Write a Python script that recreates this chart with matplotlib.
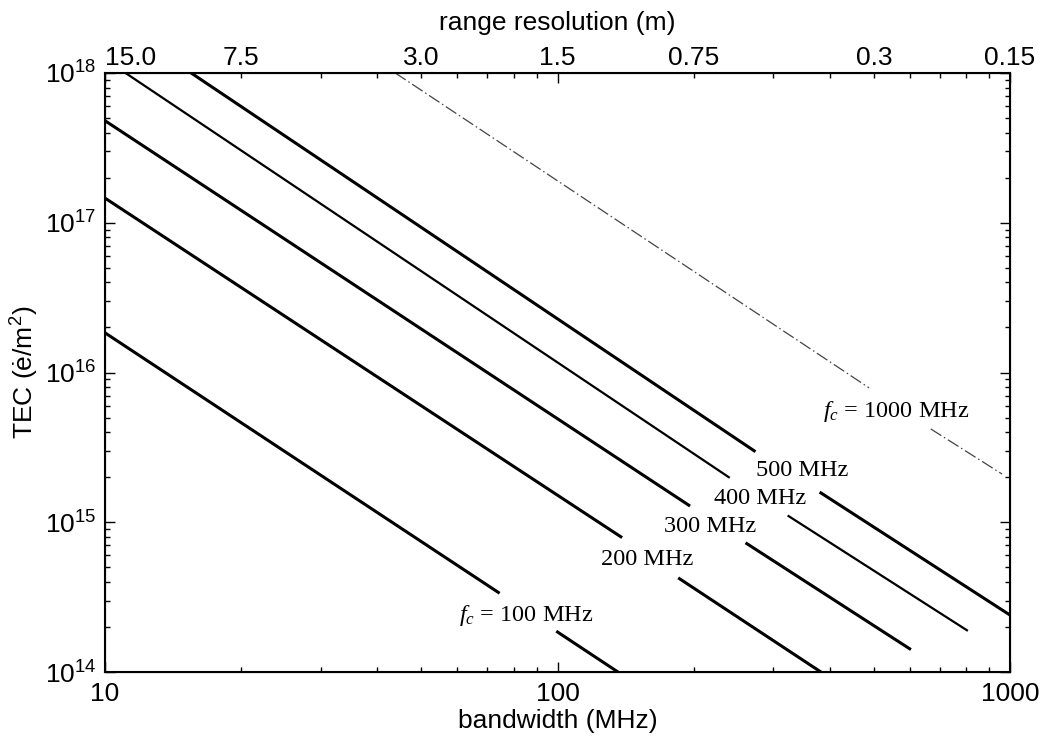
import numpy as np
import matplotlib.pyplot as plt
from matplotlib.ticker import FixedLocator, FuncFormatter, LogLocator, NullFormatter

plt.rcParams["font.family"] = ["Liberation Sans", "DejaVu Sans"]
plt.rcParams["mathtext.fontset"] = "custom"
plt.rcParams["mathtext.it"] = "Liberation Serif:italic"
plt.rcParams["mathtext.rm"] = "Liberation Serif"
plt.rcParams["mathtext.default"] = "regular"

nan = np.nan

# bandwidth (MHz) / TEC (e/m^2), NaN = gap for the label
bw_100 = [10, 74, nan, 100, 136]
tec_100 = [1.84e16, 3.4e14, nan, 1.85e14, 1e14]
bw_200 = [10, 138, nan, 186, 382]
tec_200 = [1.46e17, 8.0e14, nan, 4.2e14, 1e14]
bw_300 = [10, 195, nan, 262, 600]
tec_300 = [4.8e17, 1.3e15, nan, 7.2e14, 1.43e14]
bw_400 = [11.1, 239, nan, 324, 803]
tec_400 = [1e18, 2.0e15, nan, 1.1e15, 1.9e14]
bw_500 = [15.5, 272, nan, 382, 1000]
tec_500 = [1e18, 3.0e15, nan, 1.57e15, 2.4e14]
bw_1000 = [43.8, 488, nan, 668, 960]
tec_1000 = [1e18, 7.9e15, nan, 4.2e15, 2.1e15]

labels = ["$\\mathit{f}_{\\mathit{c}}$ = 100 MHz", "200 MHz", "300 MHz",
          "400 MHz", "500 MHz", "$\\mathit{f}_{\\mathit{c}}$ = 1000 MHz"]
label_x = [85.4, 158, 217, 280, 348, 560]
label_y = [2.4e14, 5.6e14, 9.3e14, 1.45e15, 2.2e15, 5.5e15]

# top axis: range resolution
res_pos = [10, 20, 50, 100, 200, 500, 1000]
res_labels = ["15.0", "7.5", "3.0", "1.5", "0.75", "0.3", "0.15"]

fig = plt.figure(figsize=(10.43, 7.38), dpi=100)
ax = fig.add_axes([0.1007, 0.0894, 0.8677, 0.8117])

ax.plot(bw_100, tec_100, color="black", lw=2.2)
ax.plot(bw_200, tec_200, color="black", lw=2.2)
ax.plot(bw_300, tec_300, color="black", lw=2.2)
ax.plot(bw_400, tec_400, color="black", lw=1.6)
ax.plot(bw_500, tec_500, color="black", lw=2.2)
ax.plot(bw_1000, tec_1000, color="#444444", lw=0.9, dashes=(10, 2.5, 1.2, 2.5))

for txt, x, y in zip(labels, label_x, label_y):
    ax.text(x, y, txt, ha="center", va="center", fontsize=17.5,
            family="Liberation Serif")

ax.set_xscale("log")
ax.set_yscale("log")
ax.set_xlim(10, 1000)
ax.set_ylim(1e14, 1e18)

ax.yaxis.set_major_locator(LogLocator(base=10, numticks=10))
ax.yaxis.set_major_formatter(FuncFormatter(lambda v, p: "10$^{%d}$" % round(np.log10(v))))
ax.xaxis.set_major_formatter(FuncFormatter(lambda v, p: "%d" % round(v)))
ax.xaxis.set_minor_formatter(NullFormatter())

ax.set_xlabel("bandwidth (MHz)", fontsize=19, labelpad=2)
ax.set_ylabel("TEC (ė/m$^2$)", fontsize=19, labelpad=3)

ax2 = ax.twiny()
ax2.set_xscale("log")
ax2.set_xlim(ax.get_xlim())
ax2.xaxis.set_major_locator(FixedLocator(res_pos))
ax2.set_xticklabels(res_labels)
ax2.xaxis.set_minor_locator(FixedLocator([]))
ax2.tick_params(axis="x", length=0, labelsize=19, pad=2)
ax2.get_xticklabels()[0].set_horizontalalignment("left")
ax2.set_xlabel("range resolution (m)", fontsize=19, labelpad=12)

ax.tick_params(axis="both", which="both", direction="in", top=True, right=True,
               labelsize=19, width=1.0)
ax.tick_params(which="major", length=7)
ax.tick_params(which="minor", length=3.5)
ax.tick_params(axis="x", pad=7)
ax.tick_params(axis="y", pad=6)

for sp in ax.spines.values():
    sp.set_linewidth(1.5)

fig.savefig("out.png", dpi=100)
